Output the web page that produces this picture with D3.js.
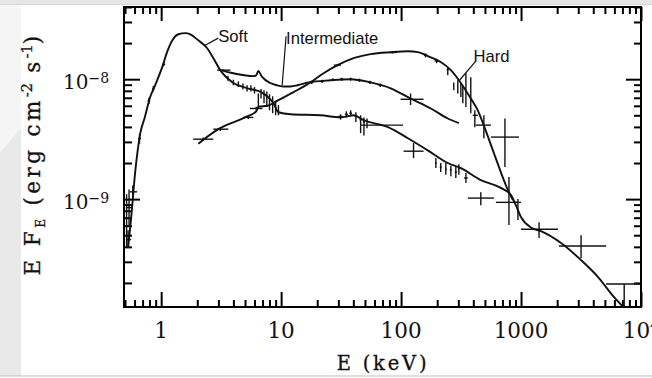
<!DOCTYPE html>
<html>
<head>
<meta charset="utf-8">
<script src="https://cdn.jsdelivr.net/npm/d3@7"></script>
<style>
  body { margin: 0; background: #fff; }
  svg { display: block; }
</style>
</head>
<body>
<div id="chart"></div>
<script>
// Model curves: photon energy E (keV) and E*F_E (erg cm^-2 s^-1)
var softE = [0.53, 0.56, 0.61, 0.67, 0.73, 0.81, 0.89, 1.02, 1.12, 1.24, 1.39, 1.59, 1.75, 2.04, 2.42, 2.72, 3.11,
    4.0, 5.23, 6.8, 8.63, 9.5, 12.0, 21.3, 31.3, 40.2, 48.7, 77, 114, 166, 245, 315, 462, 679, 824, 905, 998,
    1210, 1466, 2155, 3164, 4385, 5970, 7100];
var softF = [3.9e-10, 6.7e-10, 1.75e-9, 3.55e-9, 4.8e-9, 7.1e-9, 8.9e-9, 1.26e-8, 1.68e-8, 2.11e-8, 2.37e-8, 2.42e-8, 2.37e-8, 2.11e-8, 1.81e-8, 1.5e-8, 1.19e-8,
    9.3e-9, 8.4e-9, 7.8e-9, 6.3e-9, 5.3e-9, 5.1e-9, 5.0e-9, 4.8e-9, 5.0e-9, 4.55e-9, 4.0e-9, 3.22e-9, 2.56e-9, 2.0e-9, 1.81e-9, 1.44e-9, 1.24e-9, 1.08e-9, 8.9e-10, 7.1e-10,
    5.8e-10, 5.4e-10, 4.3e-10, 3.1e-10, 2.24e-10, 1.52e-10, 1.26e-10];

var interE = [3.11, 4.0, 5.87, 6.2, 6.46, 6.8, 6.98, 8.14, 9.2, 10.4, 12.0, 13.7, 16.9, 25.8, 37.9, 55.7, 81.9, 120, 177, 245, 303];
var interF = [1.19e-8, 1.12e-8, 1.06e-8, 1.08e-8, 1.17e-8, 1.08e-8, 1.04e-8, 9.3e-9, 8.9e-9, 8.7e-9, 8.7e-9, 8.9e-9, 9.4e-9, 9.8e-9, 1.0e-8, 9.4e-9, 8.4e-9, 6.9e-9, 5.7e-9, 4.7e-9, 4.3e-9];

var hardE = [2.04, 3.0, 5.0, 6.2, 6.5, 7.7, 9.0, 12.7, 17.6, 22.6, 29.5, 40.2, 55.7, 81.9, 114, 138, 177, 214, 260, 315, 381, 436, 490, 594, 778, 856];
var hardF = [2.9e-9, 3.83e-9, 4.8e-9, 5.4e-9, 5.9e-9, 6.0e-9, 6.5e-9, 7.8e-9, 9.4e-9, 1.12e-8, 1.31e-8, 1.5e-8, 1.62e-8, 1.68e-8, 1.71e-8, 1.68e-8, 1.52e-8, 1.39e-8, 1.19e-8, 9.3e-9, 6.9e-9, 5.5e-9, 4.1e-9, 2.42e-9, 1.19e-9, 9.8e-10];

// Data points: [E, EF, Elo, Ehi, EFlo, EFhi]
var softPts = [
    [0.515, 6.0e-10, 0.50, 0.53, 3.9e-10, 1.1e-9],
    [0.54, 8.5e-10, 0.51, 0.58, 6.0e-10, 1.2e-9],
    [0.58, 1.15e-9, 0.55, 0.63, 1.0e-9, 1.3e-9],
    [0.53, 4.6e-10, 0.51, 0.56, 4.0e-10, 5.5e-10],
    [0.66, 3.2e-9, 0.64, 0.68, 2.9e-9, 3.5e-9],
    [0.79, 6.6e-9, 0.77, 0.81, 6.2e-9, 7.0e-9],
    [0.86, 8.3e-9, 0.84, 0.88, 7.9e-9, 8.8e-9],
    [1.05, 1.33e-8, 1.02, 1.08, 1.28e-8, 1.38e-8],
    [3.3, 1.19e-8, 2.93, 3.78, 1.17e-8, 1.21e-8],
    [3.6, 1.02e-8, 3.6, 3.6, 9.7e-9, 1.07e-8],
    [4.0, 9.4e-9, 4.0, 4.0, 8.9e-9, 9.9e-9],
    [4.4, 9.1e-9, 4.4, 4.4, 8.6e-9, 9.6e-9],
    [4.8, 8.7e-9, 4.8, 4.8, 8.2e-9, 9.2e-9],
    [5.2, 8.4e-9, 5.2, 5.2, 7.9e-9, 8.9e-9],
    [5.6, 8.4e-9, 5.6, 5.6, 7.9e-9, 8.9e-9],
    [6.0, 8.1e-9, 6.0, 6.0, 7.6e-9, 8.6e-9],
    [6.46, 6.6e-9, 6.46, 6.46, 5.7e-9, 7.6e-9],
    [6.8, 7.6e-9, 6.8, 6.8, 6.9e-9, 8.3e-9],
    [7.2, 7.2e-9, 7.2, 7.2, 6.3e-9, 8.1e-9],
    [7.6, 6.9e-9, 7.6, 7.6, 5.9e-9, 7.9e-9],
    [8.0, 6.5e-9, 8.0, 8.0, 5.5e-9, 7.5e-9],
    [8.5, 6.2e-9, 8.5, 8.5, 5.2e-9, 7.2e-9],
    [9.0, 5.7e-9, 9.0, 9.0, 5.0e-9, 6.6e-9],
    [9.5, 5.5e-9, 9.5, 9.5, 5.0e-9, 6.1e-9],
    [31.3, 4.9e-9, 30, 32.5, 4.6e-9, 5.1e-9],
    [35, 5.1e-9, 34, 36, 4.8e-9, 5.4e-9],
    [38, 5.2e-9, 37, 39, 4.9e-9, 5.5e-9],
    [42, 4.9e-9, 41, 43, 4.4e-9, 5.3e-9],
    [46, 4.6e-9, 45, 47, 3.55e-9, 5.0e-9],
    [49, 4.4e-9, 48, 50, 3.4e-9, 4.8e-9],
    [52, 4.14e-9, 46, 104, 3.9e-9, 4.7e-9],
    [127, 2.51e-9, 105, 154, 2.2e-9, 2.93e-9],
    [195, 2.0e-9, 192, 198, 1.82e-9, 2.2e-9],
    [214, 1.85e-9, 210, 218, 1.68e-9, 2.0e-9],
    [236, 1.78e-9, 232, 240, 1.6e-9, 2.0e-9],
    [260, 1.75e-9, 255, 265, 1.55e-9, 1.9e-9],
    [286, 1.68e-9, 280, 292, 1.5e-9, 1.85e-9],
    [303, 1.8e-9, 298, 308, 1.6e-9, 1.95e-9],
    [347, 1.5e-9, 335, 360, 1.36e-9, 1.65e-9],
    [462, 1.02e-9, 360, 594, 8.9e-10, 1.14e-9]
];

var interPts = [
    [18, 9.4e-9, 17.5, 18.5, 9.1e-9, 9.7e-9],
    [22, 9.6e-9, 21.4, 22.6, 9.3e-9, 9.9e-9],
    [27, 9.9e-9, 26.2, 27.8, 9.6e-9, 1.02e-8],
    [32, 1.0e-8, 31, 33, 9.7e-9, 1.03e-8],
    [38, 1.0e-8, 37, 39, 9.7e-9, 1.03e-8],
    [45, 9.8e-9, 44, 46, 9.5e-9, 1.01e-8],
    [55, 9.4e-9, 53, 57, 9.1e-9, 9.7e-9],
    [67, 8.9e-9, 65, 69, 8.6e-9, 9.2e-9],
    [120, 6.8e-9, 99, 154, 6.1e-9, 7.6e-9]
];

var hardPts = [
    [2.24, 3.16e-9, 1.85, 2.72, 3.05e-9, 3.27e-9],
    [3.11, 3.83e-9, 2.72, 3.63, 3.7e-9, 3.95e-9],
    [5.33, 4.8e-9, 4.84, 5.87, 4.65e-9, 4.95e-9],
    [6.2, 5.7e-9, 5.5, 6.98, 5.5e-9, 5.9e-9],
    [29.5, 1.31e-8, 27.5, 31.5, 1.28e-8, 1.34e-8],
    [85, 1.67e-8, 80, 92, 1.64e-8, 1.7e-8],
    [160, 1.58e-8, 155, 165, 1.52e-8, 1.64e-8],
    [198, 1.42e-8, 190, 205, 1.36e-8, 1.48e-8],
    [245, 1.2e-8, 240, 250, 1.08e-8, 1.26e-8],
    [275, 8.7e-9, 275, 275, 8.1e-9, 9.4e-9],
    [297, 8.7e-9, 297, 297, 7.6e-9, 9.8e-9],
    [315, 8.1e-9, 315, 315, 7.1e-9, 9.3e-9],
    [327, 7.4e-9, 327, 327, 6.3e-9, 8.6e-9],
    [347, 8.1e-9, 347, 347, 5.85e-9, 1.12e-8],
    [381, 7.4e-9, 381, 381, 5.2e-9, 1.04e-8],
    [412, 5.0e-9, 396, 436, 3.98e-9, 5.5e-9],
    [490, 4.14e-9, 420, 561, 3.22e-9, 5.0e-9],
    [734, 3.29e-9, 561, 961, 1.85e-9, 4.7e-9],
    [793, 9.4e-10, 617, 942, 6.07e-10, 1.53e-9],
    [942, 9.4e-10, 856, 998, 6.7e-10, 1.0e-9],
    [1413, 5.6e-10, 998, 2034, 4.73e-10, 6.4e-10],
    [3165, 4.06e-10, 2074, 5117, 3.22e-10, 5.0e-10],
    [7244, 1.96e-10, 5117, 10000, 1.26e-10, 1.96e-10]
];

// State labels: text position and pointer line (from, to) in data units
var stateNames = ["Soft", "Intermediate", "Hard"];
var stateText = [[2.99, 2.03e-8], [11.0, 1.96e-8], [402, 1.39e-8]];
var stateFrom = [[2.99, 2.2e-8], [11.0, 2.28e-8], [418, 1.41e-8]];
var stateTo = [[2.33, 1.92e-8], [10.2, 8.9e-9], [307, 9.8e-9]];

// Tick labels
var xLabelVals = [1, 10, 100, 1000, 10000];
var xLabelText = ["1", "10", "100", "1000", "10"];
var xLabelSup = ["", "", "", "", "4"];
var yLabelVals = [1e-8, 1e-9];
var yLabelSup = ["\u22128", "\u22129"];

var svgWidth = 652;
var svgHeight = 378;
var margin = { top: 7, right: 11, bottom: 71, left: 124 };
var chartWidth = svgWidth - margin.left - margin.right;
var chartHeight = svgHeight - margin.top - margin.bottom;

var svg = d3.select("#chart")
    .append("svg")
    .attr("width", svgWidth)
    .attr("height", svgHeight);

// slide background bits
svg.append("rect").attr("x", 0).attr("y", 0).attr("width", 21).attr("height", 376).attr("fill", "#f5f5f5");
svg.append("polygon").attr("points", "0,153 21,128 21,376 0,376").attr("fill", "#e9e9e9");
svg.append("rect").attr("x", 0).attr("y", 0).attr("width", svgWidth).attr("height", 4).attr("fill", "#e6e6e6");
svg.append("line").attr("x1", 0).attr("x2", svgWidth).attr("y1", 4.5).attr("y2", 4.5).attr("stroke", "#d6d6d6");
svg.append("line").attr("x1", 0).attr("x2", svgWidth).attr("y1", 376).attr("y2", 376).attr("stroke", "#bdbdbd");

var chartGroup = svg.append("g")
    .attr("transform", `translate(${margin.left}, ${margin.top})`);

var xScale = d3.scaleLog().domain([0.49, 10000]).range([0, chartWidth]);
var yScale = d3.scaleLog().domain([1.26e-10, 4e-8]).range([chartHeight, 0]);

var isMajor = v => Math.abs(Math.log10(v) - Math.round(Math.log10(v))) < 1e-6;
var xTicks = xScale.ticks();
var yTicks = yScale.ticks();
var xMajor = xTicks.filter(isMajor), xMinor = xTicks.filter(v => !isMajor(v));
var yMajor = yTicks.filter(isMajor), yMinor = yTicks.filter(v => !isMajor(v));

function styleAxis(g) {
    g.select(".domain").remove();
    g.selectAll("line").attr("stroke", "#000").attr("stroke-width", 2);
}

// inward ticks on all four sides
chartGroup.append("g").attr("transform", `translate(0, ${chartHeight})`)
    .call(d3.axisBottom(xScale).tickValues(xMajor).tickSize(-15).tickFormat("")).call(styleAxis);
chartGroup.append("g").attr("transform", `translate(0, ${chartHeight})`)
    .call(d3.axisBottom(xScale).tickValues(xMinor).tickSize(-7).tickFormat("")).call(styleAxis);
chartGroup.append("g")
    .call(d3.axisTop(xScale).tickValues(xMajor).tickSize(-14).tickFormat("")).call(styleAxis);
chartGroup.append("g")
    .call(d3.axisTop(xScale).tickValues(xMinor).tickSize(-7).tickFormat("")).call(styleAxis);
chartGroup.append("g")
    .call(d3.axisLeft(yScale).tickValues(yMajor).tickSize(-16).tickFormat("")).call(styleAxis);
chartGroup.append("g")
    .call(d3.axisLeft(yScale).tickValues(yMinor).tickSize(-8).tickFormat("")).call(styleAxis);
chartGroup.append("g").attr("transform", `translate(${chartWidth}, 0)`)
    .call(d3.axisRight(yScale).tickValues(yMajor).tickSize(-15).tickFormat("")).call(styleAxis);
chartGroup.append("g").attr("transform", `translate(${chartWidth}, 0)`)
    .call(d3.axisRight(yScale).tickValues(yMinor).tickSize(-7).tickFormat("")).call(styleAxis);

chartGroup.append("rect")
    .attr("width", chartWidth).attr("height", chartHeight)
    .attr("fill", "none").attr("stroke", "#000").attr("stroke-width", 2);

// clip the spectra to the frame
svg.append("defs").append("clipPath").attr("id", "plotclip")
    .append("rect").attr("width", chartWidth).attr("height", chartHeight);
var plot = chartGroup.append("g").attr("clip-path", "url(#plotclip)");

var line = d3.line()
    .x(d => xScale(d[0]))
    .y(d => yScale(d[1]))
    .curve(d3.curveMonotoneX);

[[softE, softF], [interE, interF], [hardE, hardF]].forEach(function (s) {
    plot.append("path")
        .datum(s[0].map((e, i) => [e, s[1][i]]))
        .attr("d", line)
        .attr("fill", "none")
        .attr("stroke", "#111")
        .attr("stroke-width", 1.9)
        .attr("stroke-linejoin", "round");
});

// error crosses
var allPts = softPts.concat(interPts, hardPts);
var bars = plot.append("g").attr("stroke", "#111").attr("stroke-width", 1.4);
bars.selectAll("line.h")
    .data(allPts.filter(d => d[2] !== d[3]))
    .enter().append("line").attr("class", "h")
    .attr("x1", d => xScale(d[2])).attr("x2", d => xScale(d[3]))
    .attr("y1", d => yScale(d[1])).attr("y2", d => yScale(d[1]));
bars.selectAll("line.v")
    .data(allPts.filter(d => d[4] !== d[5]))
    .enter().append("line").attr("class", "v")
    .attr("x1", d => xScale(d[0])).attr("x2", d => xScale(d[0]))
    .attr("y1", d => yScale(d[4])).attr("y2", d => yScale(d[5]));

// state labels with pointer lines
stateNames.forEach(function (name, i) {
    chartGroup.append("line")
        .attr("x1", xScale(stateFrom[i][0])).attr("y1", yScale(stateFrom[i][1]))
        .attr("x2", xScale(stateTo[i][0])).attr("y2", yScale(stateTo[i][1]))
        .attr("stroke", "#111").attr("stroke-width", 1.2);
    chartGroup.append("text")
        .attr("x", xScale(stateText[i][0])).attr("y", yScale(stateText[i][1]))
        .style("font-family", "'Liberation Sans', Arial, sans-serif")
        .style("font-size", "16.6px")
        .attr("fill", "#111")
        .text(name);
});

// x tick labels
xLabelVals.forEach(function (v, i) {
    var t = chartGroup.append("text")
        .attr("x", xScale(v)).attr("y", chartHeight + 31)
        .attr("text-anchor", "middle")
        .style("font-family", "'DejaVu Serif', serif")
        .style("font-size", "21.5px")
        .attr("fill", "#111");
    t.append("tspan").text(xLabelText[i]);
    if (xLabelSup[i]) {
        t.append("tspan").attr("dy", -8).style("font-size", "14px").text(xLabelSup[i]);
    }
});

// y tick labels
yLabelVals.forEach(function (v, i) {
    var t = svg.append("text")
        .attr("x", 63).attr("y", margin.top + yScale(v) + 10)
        .style("font-family", "'DejaVu Serif', serif")
        .style("font-size", "20px")
        .attr("fill", "#111");
    t.append("tspan").text("10");
    t.append("tspan").attr("dy", -6).style("font-size", "14px").text(yLabelSup[i]);
});

// axis titles (typewriter look: serif face, wide spacing)
svg.append("text")
    .attr("x", 383).attr("y", 370)
    .attr("text-anchor", "middle")
    .style("font-family", "'DejaVu Serif', serif")
    .style("font-size", "19.5px")
    .style("letter-spacing", "2.8px")
    .attr("fill", "#111")
    .attr("stroke", "#111").attr("stroke-width", 0.3)
    .text("E (keV)");

var yTitle = svg.append("text")
    .attr("transform", "translate(40, 154) rotate(-90)")
    .attr("text-anchor", "middle")
    .style("font-family", "'DejaVu Serif', serif")
    .style("font-size", "21.5px")
    .style("letter-spacing", "3.4px")
    .attr("fill", "#111")
    .attr("stroke", "#111").attr("stroke-width", 0.3);
yTitle.append("tspan").text("E F");
yTitle.append("tspan").attr("dy", 5).style("font-size", "12px").text("E");
yTitle.append("tspan").attr("dy", -5).text(" (erg cm");
yTitle.append("tspan").attr("dy", -8).style("font-size", "14.5px").style("letter-spacing", "0px").text("-2");
yTitle.append("tspan").attr("dy", 8).text(" s");
yTitle.append("tspan").attr("dy", -8).style("font-size", "14.5px").style("letter-spacing", "0px").text("-1");
yTitle.append("tspan").attr("dy", 8).text(")");
</script>
</body>
</html>
